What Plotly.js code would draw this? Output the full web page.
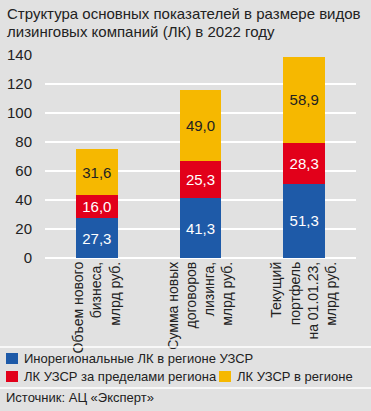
<!DOCTYPE html>
<html>
<head>
<meta charset="utf-8">
<script src="https://cdn.plot.ly/plotly-3.0.1.min.js"></script>
<style>
html,body{margin:0;padding:0;background:#e1e1e1;}
#chart{width:371px;height:411px;}
</style>
</head>
<body>
<div id="chart"></div>
<script>
const categories = ['Объем нового<br>бизнеса,<br>млрд руб.', 'Сумма новых<br>договоров<br>лизинга,<br>млрд руб.', 'Текущий<br>портфель<br>на 01.01.23,<br>млрд руб.'];
const seriesNames = ['Инорегиональные ЛК в регионе УЗСР', 'ЛК УЗСР за пределами региона', 'ЛК УЗСР в регионе'];
const blueValues = [27.3, 41.3, 51.3];
const redValues = [16.0, 25.3, 28.3];
const yellowValues = [31.6, 49.0, 58.9];
const yTicks = [0, 20, 40, 60, 80, 100, 120, 140];
const titleLines = ['Структура основных показателей в размере видов', 'лизинговых компаний (ЛК) в 2022 году'];
const sourceText = 'Источник: АЦ «Эксперт»';

const FAM = '"Liberation Sans Narrow", "Liberation Sans", Arial, sans-serif';
function F(size, color) { return {family: FAM, size: size, color: color || '#222222', stretch: 'condensed'}; }
const colors = ['#1e5aa8', '#e2001a', '#f6b800'];
const textColors = ['#ffffff', '#ffffff', '#222222'];
const seriesValues = [blueValues, redValues, yellowValues];

const traces = seriesValues.map((vals, i) => ({
  type: 'bar',
  x: categories,
  y: vals,
  name: seriesNames[i],
  marker: {color: colors[i], line: {width: 0}},
  texttemplate: '%{y:.1f}',
  textposition: 'inside',
  insidetextanchor: 'middle',
  textangle: 0,
  constraintext: 'none',
  textfont: F(15, textColors[i]),
  hoverinfo: 'skip',
  showlegend: false
}));

const shapes = [];
const annotations = [];
function px2paperX(px) { return (px - 45) / 311; }
function py2paperY(py) { return (258 - py) / 203; }
[347, 388].forEach(py => shapes.push({type: 'line', xref: 'paper', yref: 'paper',
  x0: px2paperX(0), x1: px2paperX(371), y0: py2paperY(py), y1: py2paperY(py),
  line: {color: '#ffffff', width: 1.5}}));

const legendItems = [
  {i: 0, x: 6, y: 358.5, tx: 23},
  {i: 1, x: 6, y: 376.5, tx: 23},
  {i: 2, x: 219, y: 376.5, tx: 236}
];
legendItems.forEach(it => {
  shapes.push({type: 'rect', xref: 'paper', yref: 'paper',
    x0: px2paperX(it.x), x1: px2paperX(it.x + 12),
    y0: py2paperY(it.y + 5.5), y1: py2paperY(it.y - 5.5),
    fillcolor: colors[it.i], line: {width: 0}});
  annotations.push({xref: 'paper', yref: 'paper', x: px2paperX(it.tx - 1), y: py2paperY(it.y),
    xanchor: 'left', yanchor: 'middle', showarrow: false, text: seriesNames[it.i],
    font: F(13)});
});
annotations.push({xref: 'paper', yref: 'paper', x: px2paperX(4), y: py2paperY(397),
  xanchor: 'left', yanchor: 'middle', showarrow: false, text: sourceText,
  font: F(13)});
titleLines.forEach((t, k) => annotations.push({xref: 'paper', yref: 'paper',
  x: px2paperX(5), y: py2paperY(14 + k * 17.5),
  xanchor: 'left', yanchor: 'middle', showarrow: false, text: t,
  font: F(15)}));

const layout = {
  width: 371, height: 411,
  margin: {l: 45, r: 15, t: 55, b: 153, pad: 0},
  paper_bgcolor: '#e1e1e1',
  plot_bgcolor: '#e1e1e1',
  separators: ', ',
  barmode: 'stack',
  bargap: 0.6,
  xaxis: {
    type: 'category',
    tickangle: -90,
    tickfont: F(14),
    showgrid: false, zeroline: false, showline: false,
    ticks: '', fixedrange: true
  },
  yaxis: {
    range: [0, 140],
    tickvals: yTicks,
    ticktext: yTicks.map(String),
    tickfont: F(15),
    showgrid: true, gridcolor: '#ffffff', gridwidth: 1.5,
    zeroline: true, zerolinecolor: '#ffffff', zerolinewidth: 1.5,
    showline: false, ticks: 'outside', ticklen: 9, tickcolor: 'rgba(0,0,0,0)',
    fixedrange: true
  },
  shapes: shapes,
  annotations: annotations,
  showlegend: false
};

Plotly.newPlot('chart', traces, layout, {displayModeBar: false, staticPlot: true});
</script>
</body>
</html>
